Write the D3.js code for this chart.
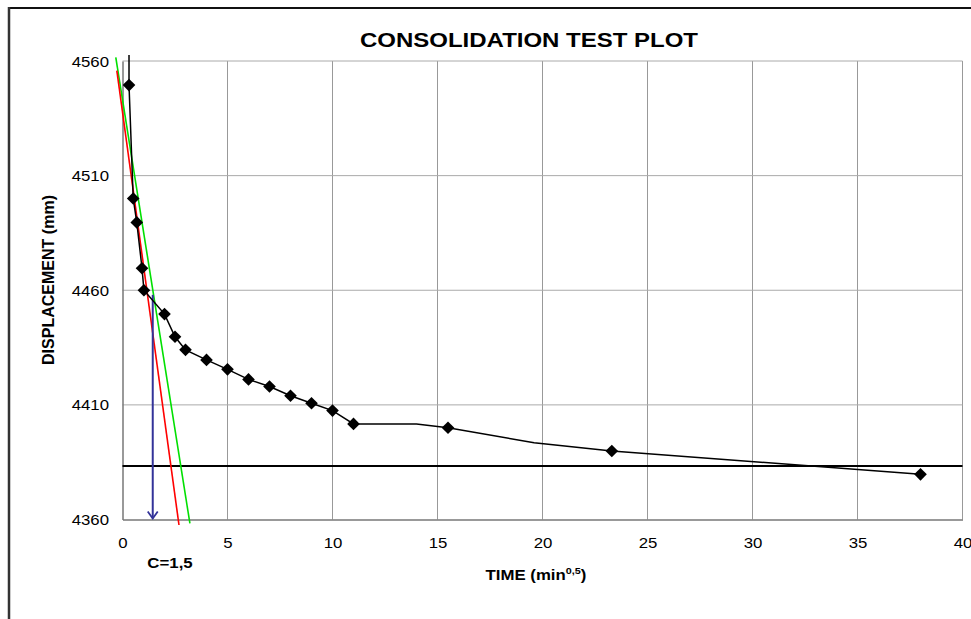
<!DOCTYPE html>
<html>
<head>
<meta charset="utf-8">
<script src="https://cdn.jsdelivr.net/npm/d3@7"></script>
<style>
  body { margin: 0; background: #fff; }
  text { font-family: Arial, "Liberation Sans", sans-serif; }
</style>
</head>
<body>
<script>
const w = 971; // width
const h = 619; // height

// measured points: time (sqrt of minutes) and displacement (mm)
const timeRoot = [0.31, 0.51, 0.68, 0.93, 1.02, 2, 2.5, 3, 4, 5, 6, 7, 8, 9, 10, 11, 15.5, 23.3, 38];
const displacement = [4549.5, 4500, 4489.6, 4469.6, 4460, 4449.6, 4439.7, 4434, 4429.6, 4425.5,
    4421.1, 4418, 4414, 4410.7, 4407.5, 4401.7, 4400, 4389.9, 4379.7];

// connecting curve as drawn in the sheet (includes the unmarked vertices)
const curveT = [0.31, 0.31, 0.51, 0.68, 0.93, 1.02, 2, 2.5, 3, 4, 5, 6, 7, 8, 9, 10, 11, 14, 15.5, 19.6, 23.3, 38];
const curveV = [4562.6, 4549.5, 4500, 4489.6, 4469.6, 4460, 4449.6, 4439.7, 4434, 4429.6, 4425.5,
    4421.1, 4418, 4414, 4410.7, 4407.5, 4401.7, 4401.7, 4400, 4393.5, 4389.9, 4379.7];

// construction lines
const redT = [-0.27, 2.69];
const redV = [4555.8, 4357.6];
const greenT = [-0.32, 3.21];
const greenV = [4561.6, 4358.3];
const finalLevel = 4383.3;
const cValue = 1.44;
const arrowV = [4458, 4360];

const xTicks = [0, 5, 10, 15, 20, 25, 30, 35, 40];
const yTicks = [4360, 4410, 4460, 4510, 4560];

const stretch = 1.2; // sheet text is drawn wide

let svg = d3.select("body")
    .append("svg")
    .attr('width', w)
    .attr('height', h);

// outer chart frame
svg.append("line")
    .attr("x1", 9).attr("x2", w).attr("y1", 8).attr("y2", 8)
    .attr("stroke", "#111").attr("stroke-width", 2);
svg.append("line")
    .attr("x1", 9).attr("x2", 9).attr("y1", 7).attr("y2", h)
    .attr("stroke", "#333").attr("stroke-width", 2.5);

// scales
let x = d3.scaleLinear().domain([0, 40]).range([122.5, 962.5]);
let y = d3.scaleLinear().domain([4360, 4560]).range([519.5, 61]);

// grid
let grid = svg.append("g").attr("class", "grid");
grid.selectAll(".gx")
    .data(xTicks.slice(1))
    .enter()
    .append("line")
    .attr("x1", d => x(d)).attr("x2", d => x(d))
    .attr("y1", y(4360)).attr("y2", y(4560))
    .attr("stroke", "#999").attr("stroke-width", 1);
grid.selectAll(".gy")
    .data(yTicks.slice(1))
    .enter()
    .append("line")
    .attr("x1", x(0)).attr("x2", x(40))
    .attr("y1", d => y(d)).attr("y2", d => y(d))
    .attr("stroke", "#aaa").attr("stroke-width", 1);

// axes
let axisX = d3.axisBottom(x).tickValues(xTicks).tickSize(0).tickFormat(d3.format("d"));
let gX = svg.append("g")
    .attr('class', 'x-axis')
    .attr('transform', `translate(0,${y(4360)})`)
    .call(axisX);
gX.select(".domain").attr("stroke", "#777").attr("stroke-width", 1.5);
gX.selectAll("text")
    .attr("y", 28.5).attr("dy", 0)
    .attr("font-size", 14).attr("fill", "#000")
    .attr("transform", `scale(${stretch},1)`);

let axisY = d3.axisLeft(y).tickValues(yTicks).tickSize(0).tickFormat(d3.format("d"));
let gY = svg.append("g")
    .attr('class', 'y-axis')
    .attr('transform', `translate(${x(0)},0)`)
    .call(axisY);
gY.select(".domain").attr("stroke", "#777").attr("stroke-width", 1.5);
gY.selectAll("text")
    .attr("x", -13.5 / stretch).attr("dy", "0.36em")
    .attr("font-size", 14).attr("fill", "#000")
    .attr("transform", `scale(${stretch},1)`);

// final settlement level
svg.append("line")
    .attr("x1", x(0)).attr("x2", x(40))
    .attr("y1", y(finalLevel)).attr("y2", y(finalLevel))
    .attr("stroke", "#000").attr("stroke-width", 2);

// tangent lines
let line = d3.line().x(d => x(d[0])).y(d => y(d[1]));
svg.append("path")
    .datum(d3.zip(greenT, greenV))
    .attr("d", line)
    .attr("fill", "none").attr("stroke", "#00e000").attr("stroke-width", 1.6);
svg.append("path")
    .datum(d3.zip(redT, redV))
    .attr("d", line)
    .attr("fill", "none").attr("stroke", "#ff0000").attr("stroke-width", 1.6);

// C arrow
svg.append("line")
    .attr("x1", x(cValue)).attr("x2", x(cValue))
    .attr("y1", y(arrowV[0])).attr("y2", y(arrowV[1]) - 1)
    .attr("stroke", "#333399").attr("stroke-width", 2);
svg.append("path")
    .attr("d", `M${x(cValue) - 5},${y(arrowV[1]) - 8} L${x(cValue)},${y(arrowV[1]) - 1} L${x(cValue) + 5},${y(arrowV[1]) - 8}`)
    .attr("fill", "none").attr("stroke", "#333399").attr("stroke-width", 1.8);

// data curve
svg.append("path")
    .datum(d3.zip(curveT, curveV))
    .attr("d", line)
    .attr("fill", "none").attr("stroke", "#000").attr("stroke-width", 1.5);

// markers
let diamond = d3.symbol().type(d3.symbolSquare).size(80);
svg.selectAll(".pt")
    .data(d3.zip(timeRoot, displacement))
    .enter()
    .append("path")
    .attr("class", "pt")
    .attr("d", diamond)
    .attr("transform", d => `translate(${x(d[0])},${y(d[1])}) rotate(45)`)
    .attr("fill", "#000");

// texts
function wideText(px, py, str, size, weight) {
    return svg.append("text")
        .attr("transform", `translate(${px},${py}) scale(${stretch},1)`)
        .attr("text-anchor", "middle")
        .attr("font-size", size)
        .attr("font-weight", weight)
        .text(str);
}

wideText(529, 46.7, "CONSOLIDATION TEST PLOT", 20, "bold");
wideText(170, 568, "C=1,5", 14, "bold");

let xl = svg.append("text")
    .attr("transform", `translate(536,580) scale(${stretch},1)`)
    .attr("text-anchor", "middle")
    .attr("font-size", 14)
    .attr("font-weight", "bold");
xl.append("tspan").text("TIME (min");
xl.append("tspan").attr("font-size", 9).attr("dy", -6).text("0,5");
xl.append("tspan").attr("dy", 6).text(")");

svg.append("text")
    .attr("transform", `translate(53.5,280) scale(${stretch},1) rotate(-90)`)
    .attr("text-anchor", "middle")
    .attr("font-size", 14)
    .attr("font-weight", "bold")
    .attr("textLength", 170)
    .attr("lengthAdjust", "spacingAndGlyphs")
    .text("DISPLACEMENT (mm)");
</script>
</body>
</html>
